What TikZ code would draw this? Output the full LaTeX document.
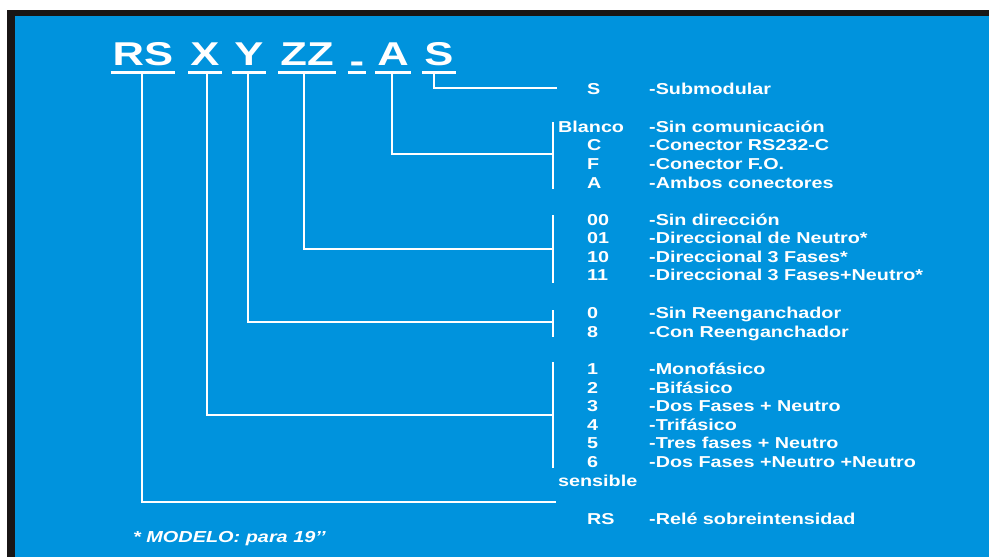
\documentclass[tikz,border=0pt]{standalone}
\usepackage{fontspec}
\newfontfamily\wfont[FakeStretch=1.25]{Liberation Sans}
\newfontfamily\tfont[FakeStretch=1.32]{Liberation Sans}
\definecolor{bg}{RGB}{0,147,221}
\definecolor{frame}{RGB}{25,22,22}
\begin{document}
\begin{tikzpicture}[x=1pt,y=-1pt,
  lbl/.style={anchor=base west, inner sep=0pt, text=white, font=\wfont\bfseries\fontsize{15.8}{18}\selectfont},
  ttl/.style={anchor=base, inner ysep=0pt, inner xsep=2pt, text=white, font=\tfont\bfseries\fontsize{33}{36}\selectfont},
  note/.style={anchor=base west, inner sep=0pt, text=white, font=\wfont\bfseries\itshape\fontsize{15.9}{18}\selectfont},
  conn/.style={draw=white, line width=1.6pt},
  uline/.style={draw=white, line width=3pt}]
\useasboundingbox (0,0) rectangle (989,557);
\fill[white] (0,0) rectangle (989,557);
\fill[frame] (7,10) rectangle (989,557);
\fill[bg] (15,16) rectangle (989,557);

% title
\node[ttl] (tRS) at (143,65) {RS};
\node[ttl] (tX) at (205,65) {X};
\node[ttl] (tY) at (249,65) {Y};
\node[ttl] (tZ) at (307,65) {ZZ};
\node[ttl] (tD) at (357,72) {-};
\node[ttl] (tA) at (393,65) {A};
\node[ttl] (tS) at (439,65) {S};
\foreach \n in {tRS,tX,tY,tZ,tD,tA,tS}
  \draw[uline] (\n.west |- 0,72) -- (\n.east |- 0,72);

% codes and descriptions
\node[lbl] (cS) at (587,94.5) {S};        \node[lbl] (dS) at (649,94.5) {-Submodular};
\node[lbl] (cBl) at (558,132.5) {Blanco}; \node[lbl] (dBl) at (649,132.5) {-Sin comunicación};
\node[lbl] (cC) at (587,150.5) {C};       \node[lbl] (dC) at (649,150.5) {-Conector RS232-C};
\node[lbl] (cF) at (587,169.5) {F};       \node[lbl] (dF) at (649,169.5) {-Conector F.O.};
\node[lbl] (cA) at (587,188.5) {A};       \node[lbl] (dA) at (649,188.5) {-Ambos conectores};
\node[lbl] (c00) at (587,225.5) {00};     \node[lbl] (d00) at (649,225.5) {-Sin dirección};
\node[lbl] (c01) at (587,243.5) {01};     \node[lbl] (d01) at (649,243.5) {-Direccional de Neutro*};
\node[lbl] (c10) at (587,262.5) {10};     \node[lbl] (d10) at (649,262.5) {-Direccional 3 Fases*};
\node[lbl] (c11) at (587,280.5) {11};     \node[lbl] (d11) at (649,280.5) {-Direccional 3 Fases+Neutro*};
\node[lbl] (c0) at (587,318.5) {0};       \node[lbl] (d0) at (649,318.5) {-Sin Reenganchador};
\node[lbl] (c8) at (587,337.5) {8};       \node[lbl] (d8) at (649,337.5) {-Con Reenganchador};
\node[lbl] (c1) at (587,374.5) {1};       \node[lbl] (d1) at (649,374.5) {-Monofásico};
\node[lbl] (c2) at (587,393.5) {2};       \node[lbl] (d2) at (649,393.5) {-Bifásico};
\node[lbl] (c3) at (587,411.5) {3};       \node[lbl] (d3) at (649,411.5) {-Dos Fases + Neutro};
\node[lbl] (c4) at (587,430.5) {4};       \node[lbl] (d4) at (649,430.5) {-Trifásico};
\node[lbl] (c5) at (587,448.5) {5};       \node[lbl] (d5) at (649,448.5) {-Tres fases + Neutro};
\node[lbl] (c6) at (587,467.5) {6};       \node[lbl] (d6) at (649,467.5) {-Dos Fases +Neutro +Neutro};
\node[lbl] (cSe) at (558,486.5) {sensible};
\node[lbl] (cRS) at (587,524.5) {RS};     \node[lbl] (dRS) at (649,524.5) {-Relé sobreintensidad};
\node[note] (nM) at (133,542) {* MODELO: para 19’’};

% junction points and bars
\coordinate (jS) at (557,88);
\coordinate (jA) at (553,154);  \coordinate (bA1) at (553,122); \coordinate (bA2) at (553,189);
\coordinate (jZ) at (553,249);  \coordinate (bZ1) at (553,215); \coordinate (bZ2) at (553,283);
\coordinate (jY) at (553,322);  \coordinate (bY1) at (553,310); \coordinate (bY2) at (553,337);
\coordinate (jX) at (553,415);  \coordinate (bX1) at (553,362); \coordinate (bX2) at (553,468);
\coordinate (jRS) at (556,502);

\draw[conn] (bA1) -- (bA2);
\draw[conn] (bZ1) -- (bZ2);
\draw[conn] (bY1) -- (bY2);
\draw[conn] (bX1) -- (bX2);

\draw[conn] ([xshift=-5pt]tS.base |- 0,73) |- (jS);
\draw[conn] ([xshift=-1pt]tA.base |- 0,73) |- (jA);
\draw[conn] ([xshift=-3pt]tZ.base |- 0,73) |- (jZ);
\draw[conn] ([xshift=-1pt]tY.base |- 0,73) |- (jY);
\draw[conn] ([xshift=2pt]tX.base |- 0,73) |- (jX);
\draw[conn] ([xshift=-1pt]tRS.base |- 0,73) |- (jRS);
\end{tikzpicture}
\end{document}
